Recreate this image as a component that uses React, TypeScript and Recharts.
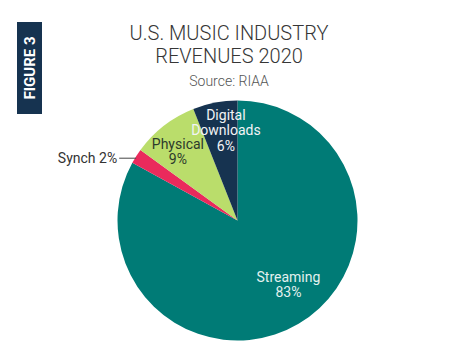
import React from "react";
import { PieChart, Pie, Cell } from "recharts";

const SEGMENTS = ["Streaming", "Synch", "Physical", "Digital Downloads"];
const SHARES = [83, 2, 9, 6];
const COLORS = ["#007b76", "#ea2a5c", "#badd6b", "#163350"];
const LABEL_COLORS = ["#e3f1ef", "#333333", "#2c3a2c", "#f2f4f6"];

const TITLE_LINES = ["U.S. MUSIC INDUSTRY", "REVENUES 2020"];
const SOURCE = "Source: RIAA";
const FIGURE_TAG = "FIGURE 3";

// where each label sits: fraction of radius + small angle nudge (degrees)
const LABEL_LAYOUT: Record<string, { r: number; turn: number }> = {
  Streaming: { r: 0.68, turn: 8 },
  Physical: { r: 0.76, turn: 3 },
  "Digital Downloads": { r: 0.76, turn: -3.5 },
};

const data = SEGMENTS.map((name, i) => ({ name, value: SHARES[i] }));

const FONT = "Roboto, 'Noto Sans', sans-serif";
const RAD = Math.PI / 180;

const renderLabel = (props: any) => {
  const { cx, cy, midAngle, outerRadius, index, name, value } = props;
  const color = LABEL_COLORS[index];

  if (name === "Synch") {
    const px = cx + outerRadius * Math.cos(-midAngle * RAD);
    const py = cy + outerRadius * Math.sin(-midAngle * RAD) + 2;
    return (
      <g>
        <line x1={px} y1={py} x2={px - 17} y2={py} stroke="#444" strokeWidth={1} />
        <text
          x={px - 19}
          y={py}
          textAnchor="end"
          dominantBaseline="central"
          fill="#333"
          fontSize={14}
          fontFamily={FONT}
        >
          {`${name} ${value}%`}
        </text>
      </g>
    );
  }

  const layout = LABEL_LAYOUT[name];
  const ang = midAngle + layout.turn;
  const r = outerRadius * layout.r;
  const x = cx + r * Math.cos(-ang * RAD);
  const y = cy + r * Math.sin(-ang * RAD);
  const lines = [...name.split(" "), `${value}%`];
  const step = 15.5;
  const top = y - ((lines.length - 1) * step) / 2;

  return (
    <text textAnchor="middle" fill={color} fontSize={14} fontFamily={FONT}>
      {lines.map((t, i) => (
        <tspan key={i} x={x} y={top + i * step} dominantBaseline="central">
          {t}
        </tspan>
      ))}
    </text>
  );
};

export default function App() {
  return (
    <div style={{ position: "absolute", left: 0, top: 0, width: 463, height: 364, background: "#fff" }}>
      <PieChart width={463} height={364} margin={{ top: 0, right: 0, bottom: 0, left: 0 }}>
        <rect x={17} y={22} width={25} height={92} fill="#163350" />
        <text
          x={29.5}
          y={68}
          transform="rotate(-90 29.5 68)"
          textAnchor="middle"
          dominantBaseline="central"
          fill="#ffffff"
          fontSize={15}
          fontWeight={700}
          fontFamily={FONT}
        >
          {FIGURE_TAG}
        </text>
        {TITLE_LINES.map((t, i) => (
          <text
            key={t}
            x={229}
            y={40 + i * 23}
            textAnchor="middle"
            fill="#363636"
            fontSize={20}
            fontWeight={300}
            fontFamily={FONT}
          >
            {t}
          </text>
        ))}
        <text x={229} y={86} textAnchor="middle" fill="#555" fontSize={14} fontWeight={300} fontFamily={FONT}>
          {SOURCE}
        </text>
        <Pie
          data={data}
          dataKey="value"
          nameKey="name"
          cx={237.5}
          cy={220.5}
          outerRadius={120}
          startAngle={90}
          endAngle={-270}
          stroke="none"
          label={renderLabel}
          labelLine={false}
          isAnimationActive={false}
        >
          {data.map((_, i) => (
            <Cell key={`cell-${i}`} fill={COLORS[i]} />
          ))}
        </Pie>
      </PieChart>
    </div>
  );
}
